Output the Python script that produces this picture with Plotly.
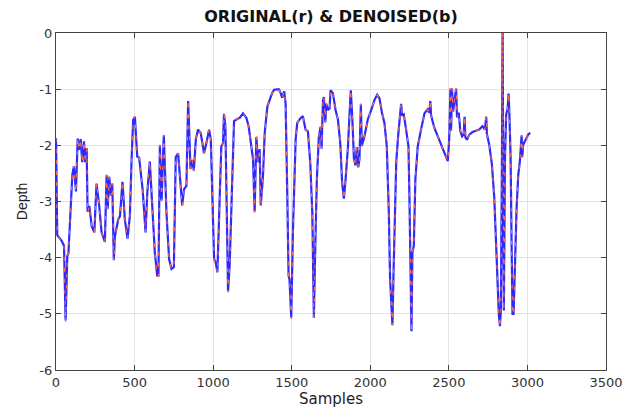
import plotly.graph_objects as go

samples = [0, 8, 36, 51, 61, 72, 79, 93, 104, 114, 127, 138, 146, 157, 167, 178, 186, 195, 201, 212,
           227, 244, 258, 275, 290, 311, 322, 329, 339, 350, 358, 368, 375, 396, 407, 423, 438, 455, 470, 481,
           491, 502, 517, 529, 551, 570, 581, 597, 614, 629, 644, 652, 661, 672, 686, 703, 720, 735, 750, 762,
           777, 788, 803, 815, 830, 841, 847, 856, 866, 877, 890, 904, 921, 942, 957, 974, 985, 1006, 1017, 1027,
           1042, 1052, 1063, 1069, 1078, 1095, 1105, 1120, 1133, 1148, 1169, 1190, 1211, 1226, 1243, 1254, 1264, 1275, 1285, 1296,
           1303, 1317, 1328, 1345, 1360, 1375, 1388, 1403, 1418, 1430, 1439, 1452, 1461, 1472, 1480, 1486, 1497, 1508, 1518, 1525,
           1535, 1555, 1571, 1588, 1603, 1618, 1631, 1635, 1641, 1650, 1660, 1673, 1684, 1690, 1699, 1705, 1714, 1720, 1731, 1741,
           1747, 1762, 1779, 1794, 1809, 1821, 1832, 1843, 1858, 1868, 1876, 1885, 1896, 1906, 1914, 1923, 1931, 1940, 1946, 1963,
           1984, 2006, 2027, 2044, 2058, 2075, 2090, 2105, 2118, 2126, 2135, 2141, 2148, 2156, 2165, 2177, 2190, 2196, 2203, 2213,
           2228, 2243, 2249, 2256, 2262, 2268, 2277, 2287, 2302, 2323, 2345, 2365, 2376, 2382, 2387, 2408, 2440, 2472, 2493, 2499,
           2503, 2510, 2514, 2520, 2527, 2535, 2546, 2552, 2563, 2573, 2584, 2594, 2600, 2605, 2615, 2630, 2651, 2672, 2693, 2714,
           2729, 2738, 2742, 2757, 2774, 2789, 2799, 2810, 2818, 2825, 2831, 2838, 2842, 2846, 2850, 2857, 2865, 2874, 2880, 2886,
           2893, 2899, 2905, 2912, 2920, 2931, 2942, 2952, 2963, 2967, 2973, 2986, 2996, 3004, 3018]

original = [-1.87, -3.62, -3.70, -3.79, -5.15, -3.97, -3.93, -3.08, -2.52, -2.37, -2.84, -1.87, -2.08, -1.89, -2.31, -1.93, -2.31, -2.05, -3.20, -3.08,
            -3.44, -3.55, -2.67, -3.08, -3.55, -3.73, -2.52, -3.14, -2.55, -2.90, -2.67, -4.06, -3.62, -3.32, -3.26, -2.64, -3.32, -3.67, -3.26, -2.25,
            -1.54, -1.48, -2.20, -2.22, -2.78, -3.56, -2.84, -2.28, -3.20, -3.91, -4.33, -4.33, -1.99, -2.99, -1.81, -3.20, -4.03, -4.20, -4.17, -2.20,
            -2.14, -2.60, -3.08, -2.78, -2.72, -1.19, -1.60, -2.43, -2.25, -2.46, -1.89, -1.72, -1.78, -2.14, -1.96, -1.72, -1.89, -4.03, -4.09, -4.27,
            -2.90, -2.02, -1.96, -1.43, -1.66, -4.62, -4.14, -2.60, -1.57, -1.54, -1.51, -1.43, -1.51, -1.66, -1.99, -2.25, -3.20, -1.84, -2.31, -2.07,
            -3.08, -2.55, -1.78, -1.31, -1.19, -1.07, -1.01, -1.00, -1.00, -1.07, -1.16, -1.04, -1.25, -2.90, -4.33, -4.39, -5.09, -3.50, -2.25, -1.90,
            -1.60, -1.52, -1.48, -1.72, -1.75, -2.31, -3.20, -3.73, -5.09, -3.79, -2.60, -1.84, -1.66, -2.07, -1.19, -1.13, -1.60, -1.25, -1.37, -1.34,
            -1.01, -1.07, -1.37, -1.54, -1.96, -2.67, -2.96, -2.60, -2.02, -1.43, -1.01, -1.48, -2.25, -2.37, -2.02, -2.40, -2.25, -1.25, -2.02, -1.84,
            -1.54, -1.37, -1.19, -1.10, -1.16, -1.43, -1.60, -2.02, -3.20, -4.39, -5.09, -5.21, -4.27, -3.20, -2.31, -1.84, -1.43, -1.25, -1.48, -1.45,
            -1.72, -2.02, -2.90, -4.39, -5.33, -3.91, -3.79, -2.60, -2.02, -1.72, -1.43, -1.36, -1.42, -1.19, -1.48, -1.69, -1.92, -2.16, -2.28, -2.04,
            -1.81, -0.98, -1.75, -0.98, -1.40, -1.22, -0.98, -1.51, -1.42, -1.75, -1.84, -1.81, -1.48, -1.87, -1.90, -1.81, -1.76, -1.74, -1.72, -1.66,
            -1.72, -1.48, -1.81, -1.99, -2.34, -2.93, -3.70, -4.47, -5.01, -5.24, -4.95, -2.22, 0.30, -2.81, -4.95, -2.22, -1.45, -1.34, -1.07, -1.51,
            -2.22, -3.70, -5.01, -5.01, -4.00, -3.11, -2.52, -2.28, -1.81, -2.22, -1.99, -1.92, -1.84, -1.81, -1.78]

denoised = [-1.87, -3.60, -3.70, -3.79, -5.12, -3.97, -3.93, -3.08, -2.52, -2.37, -2.82, -1.88, -2.08, -1.89, -2.30, -1.93, -2.30, -2.05, -3.18, -3.08,
            -3.44, -3.55, -2.68, -3.08, -3.55, -3.72, -2.53, -3.13, -2.56, -2.90, -2.68, -4.04, -3.62, -3.32, -3.26, -2.65, -3.32, -3.66, -3.26, -2.25,
            -1.55, -1.49, -2.20, -2.22, -2.78, -3.55, -2.84, -2.29, -3.20, -3.91, -4.32, -4.32, -2.00, -2.98, -1.82, -3.20, -4.03, -4.20, -4.17, -2.21,
            -2.14, -2.60, -3.07, -2.78, -2.72, -1.21, -1.61, -2.42, -2.26, -2.45, -1.89, -1.72, -1.78, -2.14, -1.96, -1.72, -1.89, -4.02, -4.09, -4.26,
            -2.90, -2.02, -1.96, -1.44, -1.66, -4.60, -4.14, -2.60, -1.57, -1.54, -1.51, -1.43, -1.51, -1.66, -1.99, -2.25, -3.18, -1.85, -2.30, -2.07,
            -3.07, -2.55, -1.78, -1.31, -1.19, -1.07, -1.01, -1.00, -1.00, -1.07, -1.15, -1.04, -1.25, -2.90, -4.32, -4.39, -5.07, -3.50, -2.25, -1.90,
            -1.60, -1.52, -1.48, -1.72, -1.75, -2.31, -3.20, -3.72, -5.07, -3.79, -2.60, -1.84, -1.67, -2.06, -1.20, -1.14, -1.59, -1.26, -1.37, -1.34,
            -1.02, -1.07, -1.37, -1.54, -1.96, -2.67, -2.95, -2.60, -2.02, -1.44, -1.02, -1.48, -2.24, -2.36, -2.03, -2.39, -2.25, -1.27, -2.01, -1.84,
            -1.54, -1.37, -1.19, -1.10, -1.16, -1.43, -1.60, -2.02, -3.20, -4.38, -5.08, -5.20, -4.27, -3.20, -2.31, -1.84, -1.43, -1.26, -1.47, -1.45,
            -1.72, -2.02, -2.90, -4.38, -5.31, -3.91, -3.79, -2.60, -2.02, -1.72, -1.43, -1.36, -1.42, -1.21, -1.47, -1.69, -1.92, -2.16, -2.28, -2.04,
            -1.81, -0.99, -1.74, -0.99, -1.40, -1.22, -0.99, -1.50, -1.42, -1.75, -1.84, -1.81, -1.49, -1.86, -1.90, -1.81, -1.76, -1.74, -1.72, -1.66,
            -1.72, -1.49, -1.80, -1.99, -2.34, -2.93, -3.70, -4.47, -5.00, -5.22, -4.94, -2.22, 0.30, -2.81, -4.94, -2.22, -1.45, -1.34, -1.08, -1.51,
            -2.22, -3.70, -5.00, -5.00, -4.00, -3.11, -2.52, -2.28, -1.82, -2.21, -1.99, -1.92, -1.84, -1.81, -1.78]

x_ticks = [0, 500, 1000, 1500, 2000, 2500, 3000, 3500]
y_ticks = [0, -1, -2, -3, -4, -5, -6]
y_tick_text = ["0", "-1", "-2", "-3", "-4", "-5", "-6"]

fig = go.Figure()
fig.add_trace(go.Scatter(x=samples, y=denoised, mode="lines",
                         line=dict(color="#2a2aff", width=2.2), name="denoised"))
fig.add_trace(go.Scatter(x=samples, y=original, mode="lines",
                         line=dict(color="#ff6a55", width=1.1, dash="4px,7px"), name="original"))

axis_common = dict(
    showgrid=True, gridcolor="#e3e3e3", gridwidth=1,
    showline=True, linecolor="#444444", linewidth=1.2, mirror="ticks",
    ticks="inside", ticklen=5, tickcolor="#444444",
    zeroline=False, automargin=False,
    tickfont=dict(family="DejaVu Sans", size=13, color="#333333"),
)

fig.update_layout(
    width=624, height=412,
    margin=dict(l=56, r=18, t=33, b=42, autoexpand=False),
    paper_bgcolor="white", plot_bgcolor="white",
    showlegend=False,
    title=dict(text="<b>ORIGINAL(r) & DENOISED(b)</b>", x=0.5, xanchor="center",
               xref="paper", y=1, yref="container", yanchor="top", pad=dict(t=11),
               font=dict(family="DejaVu Sans", size=16, color="#111111")),
    xaxis=dict(range=[0, 3500], tickvals=x_ticks,
               title=dict(text="Samples", standoff=4,
                          font=dict(family="DejaVu Sans", size=15, color="#222222")),
               **axis_common),
    yaxis=dict(range=[-6, 0], tickvals=y_ticks, ticktext=y_tick_text,
               title=dict(text="Depth", standoff=8,
                          font=dict(family="Liberation Sans", size=14, color="#222222")),
               **axis_common),
)

fig.write_html(
    "out.html",
    config={"displayModeBar": False},
    post_script="document.body.style.margin='0';document.body.style.overflow='hidden';",
)
